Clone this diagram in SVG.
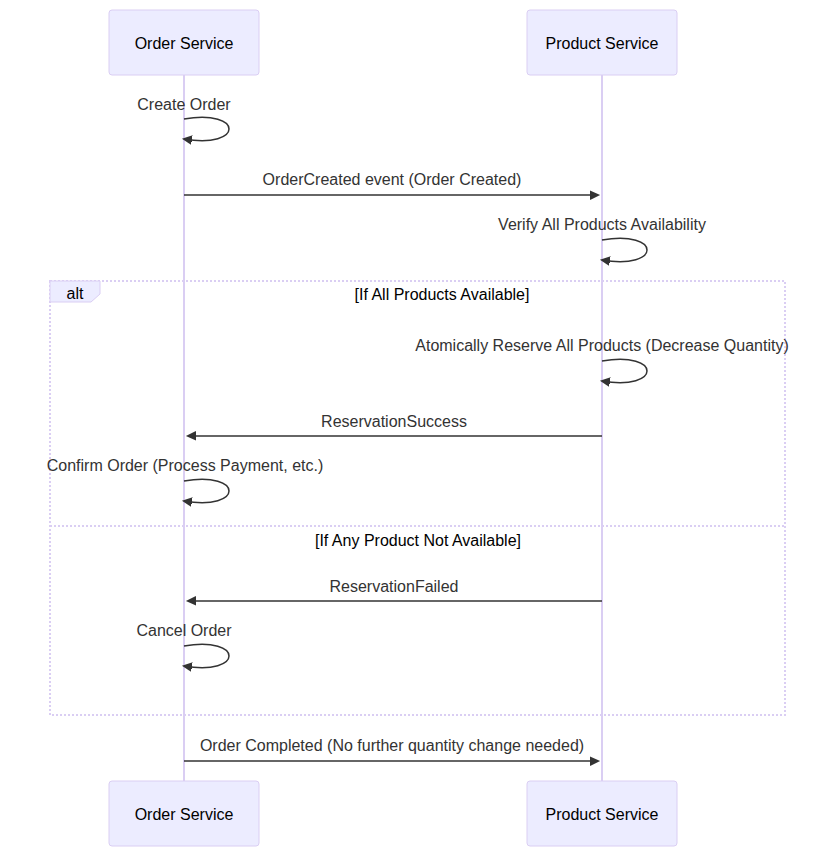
<svg xmlns="http://www.w3.org/2000/svg" width="835" height="857" viewBox="0 0 835 857">
<style>
.actor{fill:#ECECFF;stroke:#dacef3;stroke-width:1}
.atext{font-family:"Liberation Sans",Arial,sans-serif;font-size:16px;fill:#000;text-anchor:middle;dominant-baseline:central}
.life{stroke:#dacef3;stroke-width:2}
.msg{font-family:"Liberation Sans",Arial,sans-serif;font-size:16px;fill:#333;text-anchor:middle;dominant-baseline:central}
.mline{stroke:#333;stroke-width:1.5;fill:none;marker-end:url(#arrow)}
.loop{stroke:#dacef3;stroke-width:2;stroke-dasharray:2,2;fill:none}
.ltext{font-family:"Liberation Sans",Arial,sans-serif;font-size:16px;fill:#000;text-anchor:middle;dominant-baseline:central}
</style>
<defs>
<marker id="arrow" markerUnits="userSpaceOnUse" refX="7.9" refY="5" markerWidth="12" markerHeight="12" orient="auto">
<path d="M -1 0 L 10 5 L 0 10 z" fill="#333"/>
</marker>
</defs>
<rect width="835" height="857" fill="#fff"/>
<g id="lifelines">
<line class="life" x1="184" y1="75" x2="184" y2="781"/>
<line class="life" x1="602" y1="75" x2="602" y2="781"/>
</g>
<g id="alt-frame">
<rect class="loop" x="50" y="281" width="735" height="434"/>
<line class="loop" x1="50" y1="526" x2="785" y2="526"/>
<polygon points="50,281 100,281 100,294 91,302 50,302" fill="#ECECFF" stroke="#dacef3" stroke-width="1"/>
<text class="ltext" x="75" y="293">alt</text>
<text class="ltext" x="442" y="294">[If All Products Available]</text>
<text class="ltext" x="418" y="540">[If Any Product Not Available]</text>
</g>
<g id="order-service-top"><rect class="actor" x="109" y="10" width="150" height="65" rx="3"/><text class="atext" x="184" y="43.5">Order Service</text></g>
<g id="product-service-top"><rect class="actor" x="527" y="10" width="150" height="65" rx="3"/><text class="atext" x="602" y="43.5">Product Service</text></g>
<g id="order-service-bottom"><rect class="actor" x="109" y="781" width="150" height="65" rx="3"/><text class="atext" x="184" y="814.5">Order Service</text></g>
<g id="product-service-bottom"><rect class="actor" x="527" y="781" width="150" height="65" rx="3"/><text class="atext" x="602" y="814.5">Product Service</text></g>
<g id="connectors">
<text class="msg" x="184" y="104">Create Order</text>
<path class="mline" d="M184,119 C244,109 244,149 184,139"/>
<text class="msg" x="392" y="179">OrderCreated event (Order Created)</text>
<line class="mline" x1="184" y1="195" x2="598" y2="195"/>
<text class="msg" x="602" y="224">Verify All Products Availability</text>
<path class="mline" d="M602,240 C662,230 662,270 602,260"/>
<text class="msg" x="602" y="345">Atomically Reserve All Products (Decrease Quantity)</text>
<path class="mline" d="M602,361 C662,351 662,391 602,381"/>
<text class="msg" x="394" y="421">ReservationSuccess</text>
<line class="mline" x1="602" y1="436" x2="188" y2="436"/>
<text class="msg" x="185" y="465">Confirm Order (Process Payment, etc.)</text>
<path class="mline" d="M184,481 C244,471 244,511 184,501"/>
<text class="msg" x="394" y="586">ReservationFailed</text>
<line class="mline" x1="602" y1="601" x2="188" y2="601"/>
<text class="msg" x="184" y="630">Cancel Order</text>
<path class="mline" d="M184,646 C244,636 244,676 184,666"/>
<text class="msg" x="392" y="745">Order Completed (No further quantity change needed)</text>
<line class="mline" x1="184" y1="761" x2="598" y2="761"/>
</g>
</svg>
